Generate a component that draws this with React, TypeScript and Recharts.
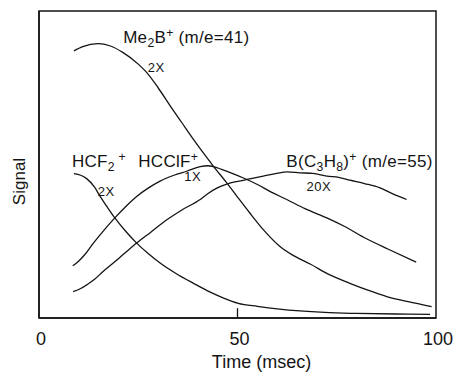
import React from 'react';
import { LineChart, Line, XAxis, YAxis, ReferenceArea, ReferenceLine, ReferenceDot } from 'recharts';

const xTicks = [0, 50, 100];

const me2b = [
  [8.8, 87], [11, 88.4], [14.9, 89.4], [18, 88.6], [21, 86.6], [25, 82.7], [27.1, 80],
  [30, 75], [33, 69.2], [36, 63.6], [38.9, 58.2], [42.2, 52.4], [43.9, 49.5], [47.3, 44],
  [50, 39.4], [53.1, 34.2], [56.5, 28.8], [60.7, 23.3], [64, 20.4], [68.3, 17.6],
  [73, 14.2], [78.3, 11.3], [83, 9], [87.6, 7], [93, 5.3], [98.9, 3.7],
];

const hcf2 = [
  [8.8, 47], [10.5, 46.5], [12, 45.4], [14, 42.6], [15.4, 39.6], [17, 36.5], [19.1, 32.6],
  [22, 28], [24.6, 24.4], [27.5, 21], [30.5, 17.9], [34.5, 14.5], [38.9, 11.3], [43, 8.5],
  [46.5, 6.5], [50.2, 4.8], [55, 3.8], [60, 3], [65.7, 2.3], [72, 1.8], [80, 1.5],
  [90, 1.3], [98.5, 1.2],
];

const hcclf = [
  [8.5, 17], [9.9, 18.4], [11.5, 20.6], [13.7, 24.4], [16.5, 28.8], [19.1, 32.6], [22, 36.5],
  [24.6, 39.6], [27.5, 42.3], [30.5, 44.6], [34, 46.5], [37.2, 47.8], [40.6, 49.3], [42.5, 49.6],
  [44, 49.3], [46, 48.4], [48.5, 47.2], [51.5, 45.6], [55, 43.5], [58.5, 41], [62.4, 38.6],
  [67, 35.6], [72.5, 32.6], [77, 29.8], [82.5, 25.8], [88, 22.4], [95, 18.2],
];

const bc3h8 = [
  [8.6, 8.6], [10.5, 9.6], [12, 10.8], [14, 12.6], [16, 15], [18.7, 17.9], [21.5, 21],
  [24.6, 24.4], [28, 27.8], [32.2, 32], [36, 35.2], [40.6, 38.6], [42.5, 40.5], [44.8, 42.3],
  [47.3, 43.6], [50, 44.5], [53.1, 45.3], [56.5, 46.2], [59.9, 47.1], [62.5, 47.6], [65.7, 47.3],
  [69, 47.1], [72.5, 46.2], [75.5, 45.8], [78.3, 44.9], [82, 43.8], [85.9, 42.4], [89, 40.5],
  [92.6, 38.6],
];

const toPts = (arr: number[][]) => arr.map(([t, s]) => ({ t, s }));

const FONT = '"Liberation Sans", Arial, sans-serif';
const INK = '#141414';

type LabelSpec = { x: number; y: number; parts: { text: string; kind?: 'sub' | 'sup' }[]; size: number };

const labels: LabelSpec[] = [
  { x: 21.2, y: 89.6, size: 17, parts: [{ text: 'Me' }, { text: '2', kind: 'sub' }, { text: 'B' }, { text: '+', kind: 'sup' }, { text: ' (m/e=41)' }] },
  { x: 27.4, y: 80.2, size: 13, parts: [{ text: '2X' }] },
  { x: 8.3, y: 49.3, size: 17, parts: [{ text: 'HCF' }, { text: '2', kind: 'sub' }, { text: ' +', kind: 'sup' }] },
  { x: 14.8, y: 39.6, size: 13, parts: [{ text: '2X' }] },
  { x: 25, y: 49.3, size: 17, parts: [{ text: 'HCClF' }, { text: '+', kind: 'sup' }] },
  { x: 36.6, y: 44.6, size: 13, parts: [{ text: '1X' }] },
  { x: 62.3, y: 49.3, size: 17, parts: [{ text: 'B(C' }, { text: '3', kind: 'sub' }, { text: 'H' }, { text: '8', kind: 'sub' }, { text: ')' }, { text: '+', kind: 'sup' }, { text: ' (m/e=55)' }] },
  { x: 67.4, y: 41.4, size: 13, parts: [{ text: '20X' }] },
];

function renderLabel(spec: LabelSpec) {
  return (props: any) => {
    let level = 0;
    const tsp = spec.parts.map((p, i) => {
      const target = p.kind === 'sub' ? 4 : p.kind === 'sup' ? -6 : 0;
      const dy = target - level;
      level = target;
      const fs = p.kind ? spec.size * 0.72 : spec.size;
      return (
        <tspan key={i} dy={dy} fontSize={fs}>
          {p.text}
        </tspan>
      );
    });
    return (
      <text
        x={props.cx}
        y={props.cy}
        fontFamily={FONT}
        fontSize={spec.size}
        fill={INK}
        letterSpacing={spec.size > 14 ? 0.3 : 0.5}
        style={{ whiteSpace: 'pre' }}
      >
        {tsp}
      </text>
    );
  };
}

export default function App() {
  return (
    <div style={{ position: 'absolute', left: 0, top: 0, background: '#fff' }}>
      <LineChart width={453} height={374} margin={{ top: 11, right: 17, left: 0, bottom: 0 }}>
        <XAxis
          dataKey="t"
          type="number"
          domain={[0, 100]}
          ticks={xTicks}
          allowDataOverflow
          tickLine={false}
          tickSize={0}
          tickMargin={14}
          height={56}
          axisLine={{ stroke: INK, strokeWidth: 1.5 }}
          tick={{ fontSize: 18, fill: INK, fontFamily: FONT, dx: 2 }}
          label={{
            content: (p: any) => (
              <text
                x={p.viewBox.x + p.viewBox.width / 2 + 24}
                y={p.viewBox.y + 50}
                textAnchor="middle"
                fontSize={18}
                fontFamily={FONT}
                fill={INK}
              >
                Time (msec)
              </text>
            ),
          }}
        />
        <YAxis
          type="number"
          domain={[0, 100]}
          allowDataOverflow
          tick={false}
          tickLine={false}
          width={39}
          axisLine={{ stroke: INK, strokeWidth: 1.5 }}
          label={{
            content: (p: any) => {
              const cx = p.viewBox.x + 19;
              const cy = p.viewBox.y + p.viewBox.height / 2 + 17;
              return (
                <text
                  x={cx}
                  y={cy}
                  transform={`rotate(-90 ${cx} ${cy})`}
                  textAnchor="middle"
                  dominantBaseline="central"
                  fontSize={17}
                  fontFamily={FONT}
                  fill={INK}
                >
                  Signal
                </text>
              );
            },
          }}
        />
        <ReferenceArea x1={0} x2={100} y1={0} y2={100} fill="none" stroke={INK} strokeWidth={1.5} />
        <ReferenceLine segment={[{ x: 50, y: 0 }, { x: 50, y: 3.2 }]} stroke={INK} strokeWidth={1.3} />
        <Line data={toPts(me2b)} dataKey="s" type="monotone" stroke={INK} strokeWidth={1.3} dot={false} isAnimationActive={false} />
        <Line data={toPts(hcf2)} dataKey="s" type="monotone" stroke={INK} strokeWidth={1.3} dot={false} isAnimationActive={false} />
        <Line data={toPts(hcclf)} dataKey="s" type="monotone" stroke={INK} strokeWidth={1.3} dot={false} isAnimationActive={false} />
        <Line data={toPts(bc3h8)} dataKey="s" type="monotone" stroke={INK} strokeWidth={1.3} dot={false} isAnimationActive={false} />
        {labels.map((l, i) => (
          <ReferenceDot key={i} x={l.x} y={l.y} r={0} shape={renderLabel(l)} />
        ))}
      </LineChart>
    </div>
  );
}
